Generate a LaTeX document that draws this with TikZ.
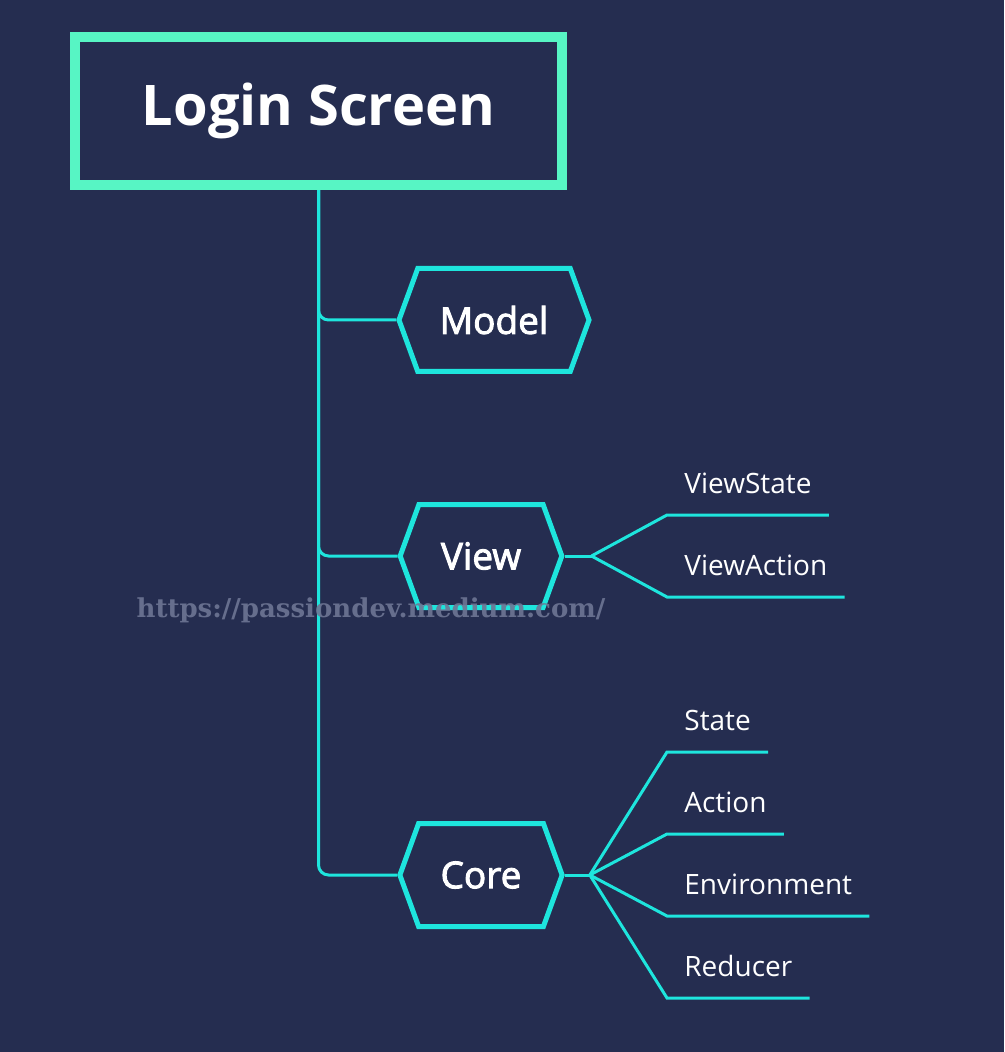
\documentclass[tikz,border=0pt]{standalone}
\usepackage{fontspec}
\setmainfont{Open Sans}
\newfontfamily\hexfont[FakeBold=2.5]{Open Sans}
\newfontfamily\markfont{DejaVu Serif}
\usetikzlibrary{shapes.symbols,backgrounds}
\definecolor{navy}{HTML}{252D50}
\definecolor{mint}{HTML}{57F5C4}
\definecolor{aqua}{HTML}{1EE5DD}
\definecolor{markgray}{HTML}{6E7694}

\begin{document}
\begin{tikzpicture}[x=0.5pt,y=-0.5pt,
    screen/.style={draw=mint,line width=5pt,fill=navy,text=white,
      font=\bfseries\fontsize{28}{34}\selectfont,minimum width=243.5pt,minimum height=74pt},
    part/.style={shape=signal,signal to=east and west,signal from=nowhere,signal pointer angle=140,
      draw=aqua,line width=2.5pt,fill=navy,text=white,font=\hexfont\fontsize{18.5}{22}\selectfont,
      minimum height=51.5pt,inner xsep=11pt},
    link/.style={draw=aqua,line width=1.5pt,rounded corners=5pt},
    twig/.style={draw=aqua,line width=1.5pt},
    leaf/.style={anchor=south west,text=white,font=\fontsize{14}{17}\selectfont,
      inner xsep=8.5pt,inner ysep=0pt,text height=10pt,text depth=10.5pt}]
  \useasboundingbox (0,0) rectangle (1004,1052);

  \node[screen] (login) at (318.5,111) {Login Screen};
  \node[part] (model) at (494,320) {Model};
  \node[part] (view) at (481,556) {View};
  \node[part] (core) at (481,875) {Core};

  \coordinate (view-hub) at ([xshift=13.5pt]view.east);
  \coordinate (core-hub) at ([xshift=12.5pt]core.east);

  % view parts
  \foreach[count=\i] \name/\y in {ViewState/515,ViewAction/597} {
    \node[leaf] (view-\i) at (667,\y) {\name};
    \draw[twig] (view-hub) -- (view-\i.south west) -- (view-\i.south east);
  }

  % core parts
  \foreach[count=\i] \name/\y in {State/752,Action/834,Environment/916,Reducer/998} {
    \node[leaf] (core-\i) at (667,\y) {\name};
    \draw[twig] (core-hub) -- (core-\i.south west) -- (core-\i.south east);
  }

  \begin{scope}[on background layer]
    \fill[navy] (0,0) rectangle (1004,1052);
    \draw[link] (login.south) |- (model.west);
    \draw[link] (login.south) |- (view.west);
    \draw[link] (login.south) |- (core.west);
    \draw[twig] (view.east) -- (view-hub);
    \draw[twig] (core.east) -- (core-hub);
  \end{scope}

  \node[text=markgray,opacity=.9,font=\markfont\bfseries\fontsize{13}{16}\selectfont] (watermark) at (371,610) {https://passiondev.medium.com/};
\end{tikzpicture}
\end{document}
